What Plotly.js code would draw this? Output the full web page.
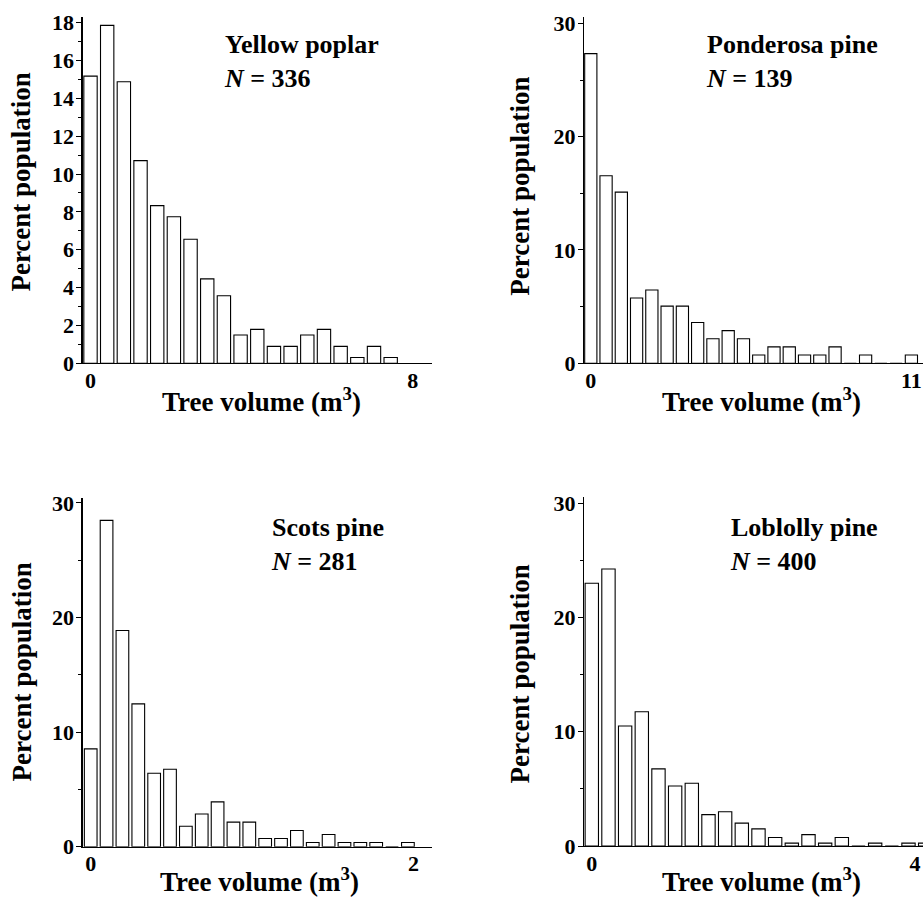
<!DOCTYPE html>
<html><head><meta charset="utf-8">
<script src="https://cdn.plot.ly/plotly-3.0.1.min.js"></script>
<style>html,body{margin:0;padding:0;background:#fff;} #chart{width:923px;height:897px;}</style>
</head><body><div id="chart"></div>
<script>
// ---- Data (percent of trees per volume class) ----
const ypName = 'Yellow poplar';
const ypN = 336;
const ypPercent = [15.18, 17.86, 14.88, 10.71, 8.33, 7.74, 6.55, 4.46, 3.57, 1.49, 1.79, 0.89, 0.89, 1.49, 1.79, 0.89, 0.30, 0.89, 0.30];
const ypBinWidth = 0.414;   // m^3 per class
const ypXTicks = [0, 8];
const ypYTicks = 2;

const ppName = 'Ponderosa pine';
const ppN = 139;
const ppPercent = [27.34, 16.55, 15.11, 5.76, 6.47, 5.04, 5.04, 3.60, 2.16, 2.88, 2.16, 0.72, 1.44, 1.44, 0.72, 0.72, 1.44, 0, 0.72, 0, 0, 0.72];
const ppBinWidth = 0.524;
const ppXTicks = [0, 11];
const ppYTicks = 10;

const spName = 'Scots pine';
const spN = 281;
const spPercent = [8.54, 28.47, 18.86, 12.46, 6.41, 6.76, 1.78, 2.85, 3.91, 2.14, 2.14, 0.71, 0.71, 1.42, 0.36, 1.07, 0.36, 0.36, 0.36, 0, 0.36];
const spBinWidth = 0.0983;
const spXTicks = [0, 2];
const spYTicks = 10;

const lpName = 'Loblolly pine';
const lpN = 400;
const lpPercent = [23.0, 24.25, 10.5, 11.75, 6.75, 5.25, 5.5, 2.75, 3.0, 2.0, 1.5, 0.75, 0.25, 1.0, 0.25, 0.75, 0, 0.25, 0, 0.25, 0.25];
const lpBinWidth = 0.2063;
const lpXTicks = [0, 4];
const lpYTicks = 10;

const yTitle = 'Percent population';
const xTitle = 'Tree volume (m<sup>3</sup>)';

// ---- Layout helpers ----
const W = 923, H = 897;
const px = x => x / W;
const py = y => 1 - y / H;
const serif = '"Liberation Serif", "Times New Roman", Times, serif';

function barTrace(values, binW, xa, ya) {
  return {type: 'bar', y: values, x0: 0, dx: binW, xaxis: xa, yaxis: ya,
    marker: {color: '#ffffff', line: {color: '#000000', width: 1.1}},
    hoverinfo: 'skip', showlegend: false};
}
function xAxis(domain, range, ticks, anchor) {
  return {domain: domain, range: range, anchor: anchor,
    tickmode: 'array', tickvals: ticks, ticktext: ticks.map(String),
    ticks: '', showline: true, linecolor: '#000', linewidth: 1.2,
    showgrid: false, zeroline: false, ticklabelstandoff: -3,
    tickfont: {size: 22, family: serif, weight: 'bold', color: '#000'}, fixedrange: true};
}
function yAxis(domain, range, dtick, anchor) {
  return {domain: domain, range: range, anchor: anchor, tick0: 0, dtick: dtick,
    ticks: 'outside', ticklen: 5, tickwidth: 1, tickcolor: '#000',
    minor: {dtick: dtick / 2, ticks: 'outside', ticklen: 3, tickwidth: 1, tickcolor: '#000'},
    showline: true, linecolor: '#000', linewidth: 1.2, showgrid: false, zeroline: false,
    ticklabelstandoff: -2,
    tickfont: {size: 22, family: serif, weight: 'bold', color: '#000'}, fixedrange: true};
}

const leftDom = [px(82.5), px(431.7)];
const rightDom = [px(584), 1];
const topDom = [py(363.2), py(16.7)];
const botDom3 = [py(846.7), py(498.3)];
const botDom4 = [py(846), py(497.3)];

const data = [
  barTrace(ypPercent, ypBinWidth, 'x', 'y'),
  barTrace(ppPercent, ppBinWidth, 'x2', 'y2'),
  barTrace(spPercent, spBinWidth, 'x3', 'y3'),
  barTrace(lpPercent, lpBinWidth, 'x4', 'y4')
];

function ann(text, x, y, size, opts) {
  return Object.assign({text: text, xref: 'paper', yref: 'paper', x: px(x), y: py(y),
    showarrow: false, xanchor: 'left', yanchor: 'middle', align: 'left',
    font: {size: size, family: serif, weight: 'bold', color: '#000'}}, opts || {});
}
function label(name, n) { return name + '<br><i>N</i> = ' + n; }

const annotations = [
  ann(label(ypName, ypN), 221.7, 62, 26),
  ann(label(ppName, ppN), 704, 62, 26),
  ann(label(spName, spN), 269.3, 544, 26),
  ann(label(lpName, lpN), 727.7, 544, 26),
  ann(yTitle, 21, 182.6, 27, {textangle: -90, xanchor: 'center'}),
  ann(yTitle, 519.7, 186, 27, {textangle: -90, xanchor: 'center'}),
  ann(yTitle, 21, 672.5, 27, {textangle: -90, xanchor: 'center'}),
  ann(yTitle, 519.7, 673.8, 27, {textangle: -90, xanchor: 'center'}),
  ann(xTitle, 261, 400, 27, {xanchor: 'center'}),
  ann(xTitle, 761, 400, 27, {xanchor: 'center'}),
  ann(xTitle, 259, 879.5, 27, {xanchor: 'center'}),
  ann(xTitle, 761.5, 879.5, 27, {xanchor: 'center'})
];

const layout = {
  width: W, height: H, margin: {l: 0, r: 0, t: 0, b: 0},
  paper_bgcolor: '#fff', plot_bgcolor: '#fff',
  font: {family: serif, color: '#000', weight: 'bold'},
  bargap: 0.2, showlegend: false,
  xaxis: xAxis(leftDom, [-0.48 * ypBinWidth, 20.46 * ypBinWidth], ypXTicks, 'y'),
  yaxis: yAxis(topDom, [0, 18.32], ypYTicks, 'x'),
  xaxis2: xAxis(rightDom, [-0.445 * ppBinWidth, 21.76 * ppBinWidth], ppXTicks, 'y2'),
  yaxis2: yAxis(topDom, [0, 30.6], ppYTicks, 'x2'),
  xaxis3: xAxis(leftDom, [-0.517 * spBinWidth, 21.5 * spBinWidth], spXTicks, 'y3'),
  yaxis3: yAxis(botDom3, [0, 30.4], spYTicks, 'x3'),
  xaxis4: xAxis(rightDom, [-0.468 * lpBinWidth, 19.87 * lpBinWidth], lpXTicks, 'y4'),
  yaxis4: yAxis(botDom4, [0, 30.53], lpYTicks, 'x4'),
  annotations: annotations
};

Plotly.newPlot('chart', data, layout, {displayModeBar: false, staticPlot: true});
</script>
</body></html>
